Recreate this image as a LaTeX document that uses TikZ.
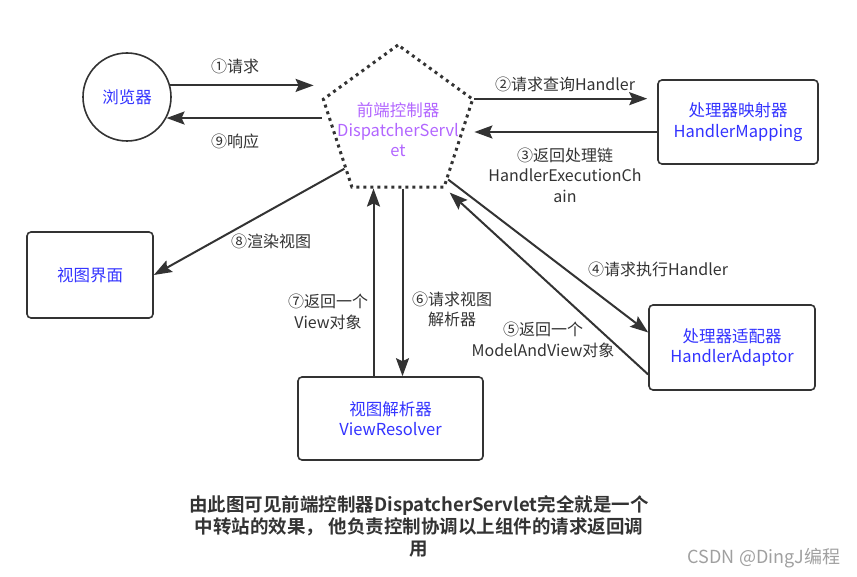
\documentclass[tikz,border=0pt]{standalone}
\usepackage{fontspec}
\setmainfont{Noto Sans CJK SC}[BoldFont={Noto Sans CJK SC Bold}]
\usetikzlibrary{shapes, arrows.meta, positioning, calc}
\definecolor{linec}{HTML}{333333}
\definecolor{boxtext}{RGB}{51,51,255}
\definecolor{disptext}{RGB}{178,102,255}
\definecolor{marktext}{HTML}{A0A0A0}
\tikzset{
  box/.style={draw=linec, line width=1.6pt, rounded corners=4pt, text=boxtext,
    align=center, font=\fontsize{16.5}{20.5}\selectfont},
  lbl/.style={text=linec, align=center, inner sep=0pt, font=\fontsize{16}{20.5}\selectfont},
  arr/.style={draw=linec, line width=2pt, -{Stealth[length=18pt, width=13pt, inset=3pt]}}
}

\begin{document}
\begin{tikzpicture}[x=1pt, y=-1pt]
  \useasboundingbox (0,0) rectangle (857,577);
  % components
  \node[box, circle, minimum size=88pt, inner sep=0pt] (browser) at (127,97) {浏览器};
  \node[regular polygon, regular polygon sides=5, minimum size=157pt, inner sep=0pt,
    draw=linec, line width=3pt, dash pattern=on 3pt off 4pt,
    label={[text=disptext, align=center, yshift=-6.5pt,
      font=\fontsize{16.5}{20}\selectfont]center:前端控制器\\DispatcherServl\\et}]
    (dispatcher) at (398,123.5) {};
  \node[box, minimum width=160pt, minimum height=84pt] (hmapping) at (738,122) {处理器映射器\\HandlerMapping};
  \node[box, minimum width=126pt, minimum height=86pt] (viewpage) at (90,275) {视图界面};
  \node[box, minimum width=185pt, minimum height=83pt] (vresolver) at (390.5,418.5) {视图解析器\\ViewResolver};
  \node[box, minimum width=166pt, minimum height=85pt] (hadaptor) at (732,347.5) {处理器适配器\\HandlerAdaptor};

  % request / response
  \draw[arr, shorten >=8pt] (browser.15) -- (browser.15 -| dispatcher.corner 2);
  \draw[arr] (browser.-28 -| dispatcher.corner 2) -- (browser.-28);
  \draw[arr, shorten >=10pt] (dispatcher.corner 5) -- (dispatcher.corner 5 -| hmapping.west);
  \draw[arr] ([yshift=-10pt]hmapping.west) -- ([yshift=-10pt]hmapping.west -| dispatcher.corner 5);
  \draw[arr] ($(dispatcher.corner 4)!0.1!(dispatcher.corner 5)$) -- ([yshift=15pt]hadaptor.west);
  \draw[arr, shorten >=6pt] ([yshift=-27pt]hadaptor.west) -- (dispatcher.corner 4);
  \draw[arr] ([xshift=12pt]vresolver.north |- dispatcher.corner 3) -- ([xshift=12pt]vresolver.north);
  \draw[arr] ([xshift=-17pt]vresolver.north) -- ([xshift=-17pt]vresolver.north |- dispatcher.corner 3);
  \draw[arr] ($(dispatcher.corner 2)!0.78!(dispatcher.corner 3)$) -- (viewpage.east);

  % labels
  \node[lbl] (l1) at (235,66) {①请求};
  \node[lbl] (l9) at (235,141) {⑨响应};
  \node[lbl] (l2) at (565,84) {②请求查询Handler};
  \node[lbl] (l3) at (565,175) {③返回处理链\\HandlerExecutionCh\\ain};
  \node[lbl] (l4) at (658,269) {④请求执行Handler};
  \node[lbl] (l5) at (543,340) {⑤返回一个\\ModelAndView对象};
  \node[lbl] (l6) at (452,309.5) {⑥请求视图\\解析器};
  \node[lbl] (l7) at (328,312) {⑦返回一个\\View对象};
  \node[lbl] (l8) at (271,241) {⑧渲染视图};

  % summary
  \node[text=linec, align=center, inner sep=0pt, font=\bfseries\fontsize{18.5}{22}\selectfont]
    (summary) at (419,526) {由此图可见前端控制器DispatcherServlet完全就是一个\\中转站的效果， 他负责控制协调以上组件的请求返回调\\用};
  \node[text=marktext, inner sep=0pt, font=\fontsize{18}{20}\selectfont] (mark) at (764,558) {CSDN @DingJ编程};
\end{tikzpicture}
\end{document}
